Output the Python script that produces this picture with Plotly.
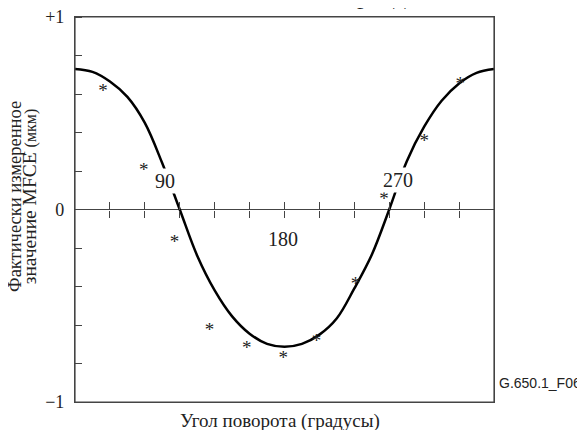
import plotly.graph_objects as go

# fitted curve, every 15 degrees
curve_angle = [0, 15, 30, 45, 60, 75, 90, 105, 120, 135, 150, 165, 180,
               195, 210, 225, 240, 255, 270, 285, 300, 315, 330, 345, 360]
curve_mfce = [0.73, 0.715, 0.665, 0.585, 0.45, 0.24, 0.0, -0.24, -0.42, -0.555, -0.645, -0.698, -0.713,
              -0.698, -0.65, -0.565, -0.41, -0.235, 0.0, 0.25, 0.43, 0.565, 0.655, 0.71, 0.73]

# measured points (asterisks)
meas_angle = [24, 59, 85.5, 115.5, 147.5, 179, 207.5, 241, 265.5, 300, 331]
meas_mfce = [0.61, 0.20, -0.175, -0.63, -0.725, -0.778, -0.687, -0.396, 0.049, 0.349, 0.647]

x_ticks = [30, 60, 90, 120, 150, 180, 210, 240, 270, 300, 330]
y_tickvals = [-1, 0, 1]
y_ticktext = ["\u22121", "0", "+1"]

SERIF = "Liberation Serif"
AX = "#444"

fig = go.Figure()
fig.add_trace(go.Scatter(x=curve_angle, y=curve_mfce, mode="lines",
                         line=dict(color="black", width=2.5, shape="spline", smoothing=1.0),
                         hoverinfo="skip"))
fig.add_trace(go.Scatter(x=meas_angle, y=meas_mfce, mode="text", text=["*"] * len(meas_angle),
                         textfont=dict(family=SERIF, size=19, color="#222"),
                         hoverinfo="skip"))
# empty traces so the two tick-only axes on the zero line get drawn
fig.add_trace(go.Scatter(x=[], y=[], xaxis="x2", hoverinfo="skip"))
fig.add_trace(go.Scatter(x=[], y=[], xaxis="x3", hoverinfo="skip"))

lbl = dict(showarrow=False, font=dict(family=SERIF, size=20, color="#222"), bgcolor="white")
fig.add_annotation(x=77.3, y=0.15, text="90", **lbl)
fig.add_annotation(x=178.4, y=-0.153, text="180", **lbl)
fig.add_annotation(x=277.5, y=0.153, text="270", **lbl)

# axis titles and figure id
fig.add_annotation(xref="paper", yref="paper", x=0.49, y=-0.015, yanchor="top", showarrow=False,
                   text="Угол поворота (градусы)", font=dict(family=SERIF, size=19, color="#222"))
fig.add_annotation(xref="paper", yref="paper", x=-0.172, y=0.535, textangle=-90, showarrow=False,
                   text="Фактически измеренное", font=dict(family=SERIF, size=18.5, color="#222"))
fig.add_annotation(xref="paper", yref="paper", x=-0.139, y=0.535, textangle=-90, showarrow=False,
                   text="значение MFCE <span style='font-size:16px'>(мкм)</span>",
                   font=dict(family=SERIF, size=19.5, color="#222"))
fig.add_annotation(xref="paper", yref="paper", x=1.0072, y=0.023, xanchor="left", showarrow=False,
                   text="G.650.1_F06", font=dict(family="Liberation Sans", size=14, color="#222"))
# cut-off caption above the frame
fig.add_annotation(xref="paper", yref="paper", x=0.709, y=1.014, yanchor="bottom", showarrow=False,
                   text="р", font=dict(family=SERIF, size=26, color="#222"))
fig.add_annotation(xref="paper", yref="paper", x=0.795, y=1.014, yanchor="bottom", showarrow=False,
                   text="д", font=dict(family=SERIF, size=26, color="#222"))

# frame round the plot area
fig.add_shape(type="rect", xref="paper", yref="paper", x0=0, y0=0, x1=1, y1=1,
              line=dict(color=AX, width=1.2))

tick_axis = dict(overlaying="x", range=[0, 360], anchor="free", position=0.5, side="bottom",
                 tickvals=x_ticks, showticklabels=False, showline=False, showgrid=False,
                 zeroline=False, tickcolor=AX, tickwidth=1.2, automargin=False)

# the page body keeps an 8px margin, so the margins are shifted by 8px
fig.update_layout(
    width=585, height=430,
    margin=dict(l=67, r=99, t=9, b=36, autoexpand=False),
    paper_bgcolor="white", plot_bgcolor="white",
    showlegend=False,
    xaxis=dict(range=[0, 360], showline=True, mirror=True, linecolor=AX, linewidth=1.2,
               ticks="", showticklabels=False, showgrid=False, zeroline=False, automargin=False),
    xaxis2=dict(ticks="inside", ticklen=8, **tick_axis),
    xaxis3=dict(ticks="outside", ticklen=7, **tick_axis),
    yaxis=dict(range=[-1, 1], showline=True, mirror=True, linecolor=AX, linewidth=1.2,
               tickvals=y_tickvals, ticktext=y_ticktext, ticks="", ticklabelstandoff=6,
               ticklabeloverflow="allow", automargin=False,
               tickfont=dict(family=SERIF, size=18, color="#222"),
               minor=dict(dtick=0.2, ticks="inside", ticklen=7, tickcolor=AX, tickwidth=1.2),
               showgrid=False, zeroline=True, zerolinecolor=AX, zerolinewidth=1.2),
)

fig.write_html("out.html")
